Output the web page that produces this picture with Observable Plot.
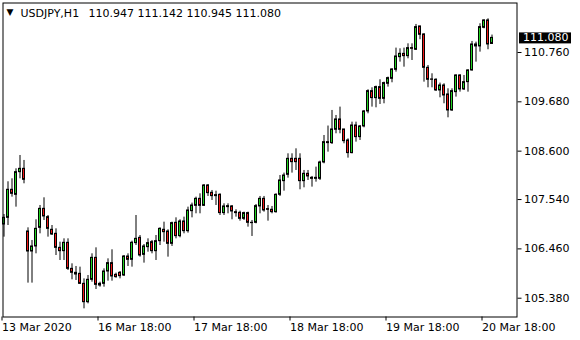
<!DOCTYPE html>
<html><head><meta charset="utf-8">
<script src="https://cdn.jsdelivr.net/npm/d3@7"></script>
<script src="https://cdn.jsdelivr.net/npm/@observablehq/plot@0.6"></script>
<style>html,body{margin:0;padding:0;background:#fff}svg{display:block}</style>
</head><body><div id="chart"></div>
<script>
const symbol = "USDJPY,H1";
const open = [106.994,107.140,107.754,107.644,108.140,108.213,106.841,106.403,106.513,106.921,107.337,107.155,106.878,106.790,106.483,106.410,106.593,106.023,105.936,105.914,105.695,105.293,105.783,106.264,105.695,105.695,105.965,106.148,105.892,105.936,105.877,106.293,106.221,106.586,106.702,106.330,106.498,106.607,106.410,106.629,106.878,106.841,106.571,107.031,106.739,107.060,106.848,107.286,107.403,107.556,107.403,107.848,107.688,107.637,107.644,107.243,107.374,107.389,107.264,107.250,107.118,107.243,107.031,107.031,107.389,107.556,107.330,107.316,107.264,107.644,107.943,108.082,108.432,108.432,108.432,107.943,108.104,108.016,107.994,107.994,108.352,108.797,108.776,109.068,109.294,109.075,108.834,108.557,109.162,108.907,109.141,109.469,109.914,109.761,110.002,109.746,110.075,110.184,110.381,110.658,110.731,110.680,110.856,110.820,111.331,111.155,110.425,110.170,110.163,109.929,110.038,109.841,109.491,109.892,110.257,109.951,110.111,110.367,110.936,110.893,111.301,111.462,110.947];
const high = [107.213,107.929,107.994,108.213,108.505,108.396,106.921,106.644,107.097,107.410,107.578,107.191,106.972,106.899,106.607,106.680,106.680,106.133,106.075,106.060,105.804,105.877,106.352,106.483,105.731,106.023,106.242,106.440,105.929,105.965,106.315,106.352,106.629,107.191,106.753,106.556,106.680,106.644,106.753,106.921,107.045,106.878,107.045,107.140,107.097,107.155,107.374,107.462,107.593,107.666,107.870,107.870,107.739,107.724,107.666,107.447,107.447,107.410,107.316,107.286,107.264,107.264,107.082,107.432,107.608,107.608,107.410,107.389,107.666,108.067,108.119,108.542,108.542,108.651,108.542,108.177,108.177,108.046,108.250,108.381,108.943,109.150,109.491,109.381,109.564,109.075,108.870,109.235,109.235,109.162,109.491,109.944,109.987,110.024,110.163,110.111,110.221,110.403,110.856,110.841,110.856,110.950,110.950,111.374,111.331,111.170,110.476,110.294,110.184,110.090,110.075,109.965,109.965,110.272,110.272,110.257,110.382,111.002,110.987,111.389,111.477,111.498,111.142];
const low = [106.717,106.972,107.593,107.374,107.994,107.885,105.710,105.710,106.352,106.790,107.082,106.717,106.753,106.315,106.206,106.206,105.987,105.783,105.768,105.680,105.147,105.257,105.731,105.571,105.622,105.622,105.753,105.753,105.819,105.804,105.855,106.075,106.060,106.534,106.279,106.148,106.388,106.352,106.206,106.534,106.607,106.279,106.513,106.680,106.702,106.790,106.805,107.140,107.228,107.228,107.389,107.608,107.520,107.410,107.191,107.191,107.228,107.097,107.155,107.067,107.082,106.936,106.732,107.009,107.228,107.264,107.067,107.228,107.243,107.608,107.724,108.009,108.119,108.177,107.754,107.797,107.958,107.812,107.921,107.958,108.323,108.578,108.746,108.980,108.980,108.761,108.447,108.542,108.797,108.834,109.111,109.418,109.564,109.549,109.622,109.637,110.002,110.097,110.330,110.549,110.439,110.622,110.585,110.805,111.039,110.111,109.987,109.987,109.907,109.768,109.637,109.330,109.470,109.783,109.892,109.929,109.892,110.352,110.549,110.768,111.279,110.820,110.945];
const close = [107.140,107.754,107.666,108.140,108.213,107.973,106.403,106.513,106.899,107.337,107.170,106.899,106.775,106.483,106.410,106.593,106.023,105.936,105.899,105.695,105.293,105.783,106.264,105.673,105.658,105.965,106.148,105.856,105.841,105.863,106.293,106.221,106.593,106.680,106.315,106.513,106.586,106.410,106.629,106.899,106.826,106.571,107.024,106.739,107.060,106.848,107.301,107.410,107.556,107.403,107.848,107.681,107.615,107.615,107.243,107.389,107.396,107.279,107.243,107.118,107.243,107.031,107.024,107.396,107.556,107.301,107.316,107.264,107.644,107.958,108.067,108.432,108.359,108.359,107.943,108.104,108.046,107.994,108.016,108.352,108.797,108.776,109.075,109.294,109.068,108.819,108.557,109.162,108.907,109.141,109.469,109.914,109.761,110.002,109.746,110.090,110.199,110.389,110.673,110.731,110.680,110.856,110.841,111.316,111.148,110.425,110.163,110.163,109.929,110.038,109.819,109.491,109.914,110.257,109.951,110.111,110.367,110.936,110.893,111.316,111.462,110.936,111.080];
const timeTickIndex = [0, 24, 48, 72, 96, 120];
const timeTickLabels = ["13 Mar 2020", "16 Mar 18:00", "17 Mar 18:00", "18 Mar 18:00", "19 Mar 18:00", "20 Mar 18:00"];
const priceTicks = [105.38, 106.46, 107.54, 108.60, 109.68, 110.76];

const bars = open.map((o, i) => ({i, open: o, high: high[i], low: low[i], close: close[i], up: close[i] >= o}));
const last = bars[bars.length - 1];
const fmt = d3.format(".3f");
const font = "'DejaVu Sans', Verdana, sans-serif";
const ohlcText = [last.open, last.high, last.low, last.close].map(fmt).join(" ");

const chart = Plot.plot({
  width: 580, height: 340,
  marginLeft: 2.5, marginTop: 2.5, marginRight: 63.5, marginBottom: 23.5,
  style: {fontFamily: font, fontSize: "11px", color: "#000", background: "#fff", overflow: "visible"},
  x: {type: "linear", domain: [-0.25, 128.25]},
  y: {domain: [104.9686, 111.8439]},
  marks: [
    Plot.axisY({anchor: "right", ticks: priceTicks, tickFormat: fmt, tickSize: 4, tickPadding: 3, label: null, fontSize: 11}),
    Plot.axisX({ticks: timeTickIndex, tickFormat: d => timeTickLabels[timeTickIndex.indexOf(d)], tickSize: 4, tickPadding: 2.5, textAnchor: "start", dx: -2, label: null, fontSize: 11}),
    Plot.ruleX(bars, {x: "i", y1: "low", y2: "high", stroke: "#000", strokeWidth: 1}),
    Plot.rect(bars, {x1: d => d.i - 0.25, x2: d => d.i + 0.25, y1: "open", y2: "close", fill: d => d.up ? "#22d222" : "#f01818", stroke: "#000", strokeWidth: 1}),
    Plot.frame({stroke: "#000"}),
    Plot.text(["▼"], {frameAnchor: "top-left", dx: 3.5, dy: 6, fontSize: 9, fill: "#000"}),
    Plot.text([symbol], {frameAnchor: "top-left", dx: 17.5, dy: 6.5, fontSize: 11, fill: "#000"}),
    Plot.text([ohlcText], {frameAnchor: "top-left", dx: 85.5, dy: 6.5, fontSize: 11, fill: "#000"}),
    Plot.text([last], {y: "close", text: d => fmt(d.close), frameAnchor: "right", dx: 6, textAnchor: "start", fill: "#fff", fontSize: 11, className: "lastprice"})
  ]
});
document.getElementById("chart").append(chart);
// black background box behind the last-price label
d3.select(chart).selectAll(".lastprice text").each(function() {
  const b = this.getBBox();
  const cy = b.y + b.height / 2;
  d3.select(this.parentNode).insert("rect", "text")
    .attr("transform", this.getAttribute("transform"))
    .attr("x", b.x - 4).attr("y", cy - 5.5)
    .attr("width", b.width + 6.5).attr("height", 11)
    .attr("fill", "#000");
});
</script>
</body></html>
